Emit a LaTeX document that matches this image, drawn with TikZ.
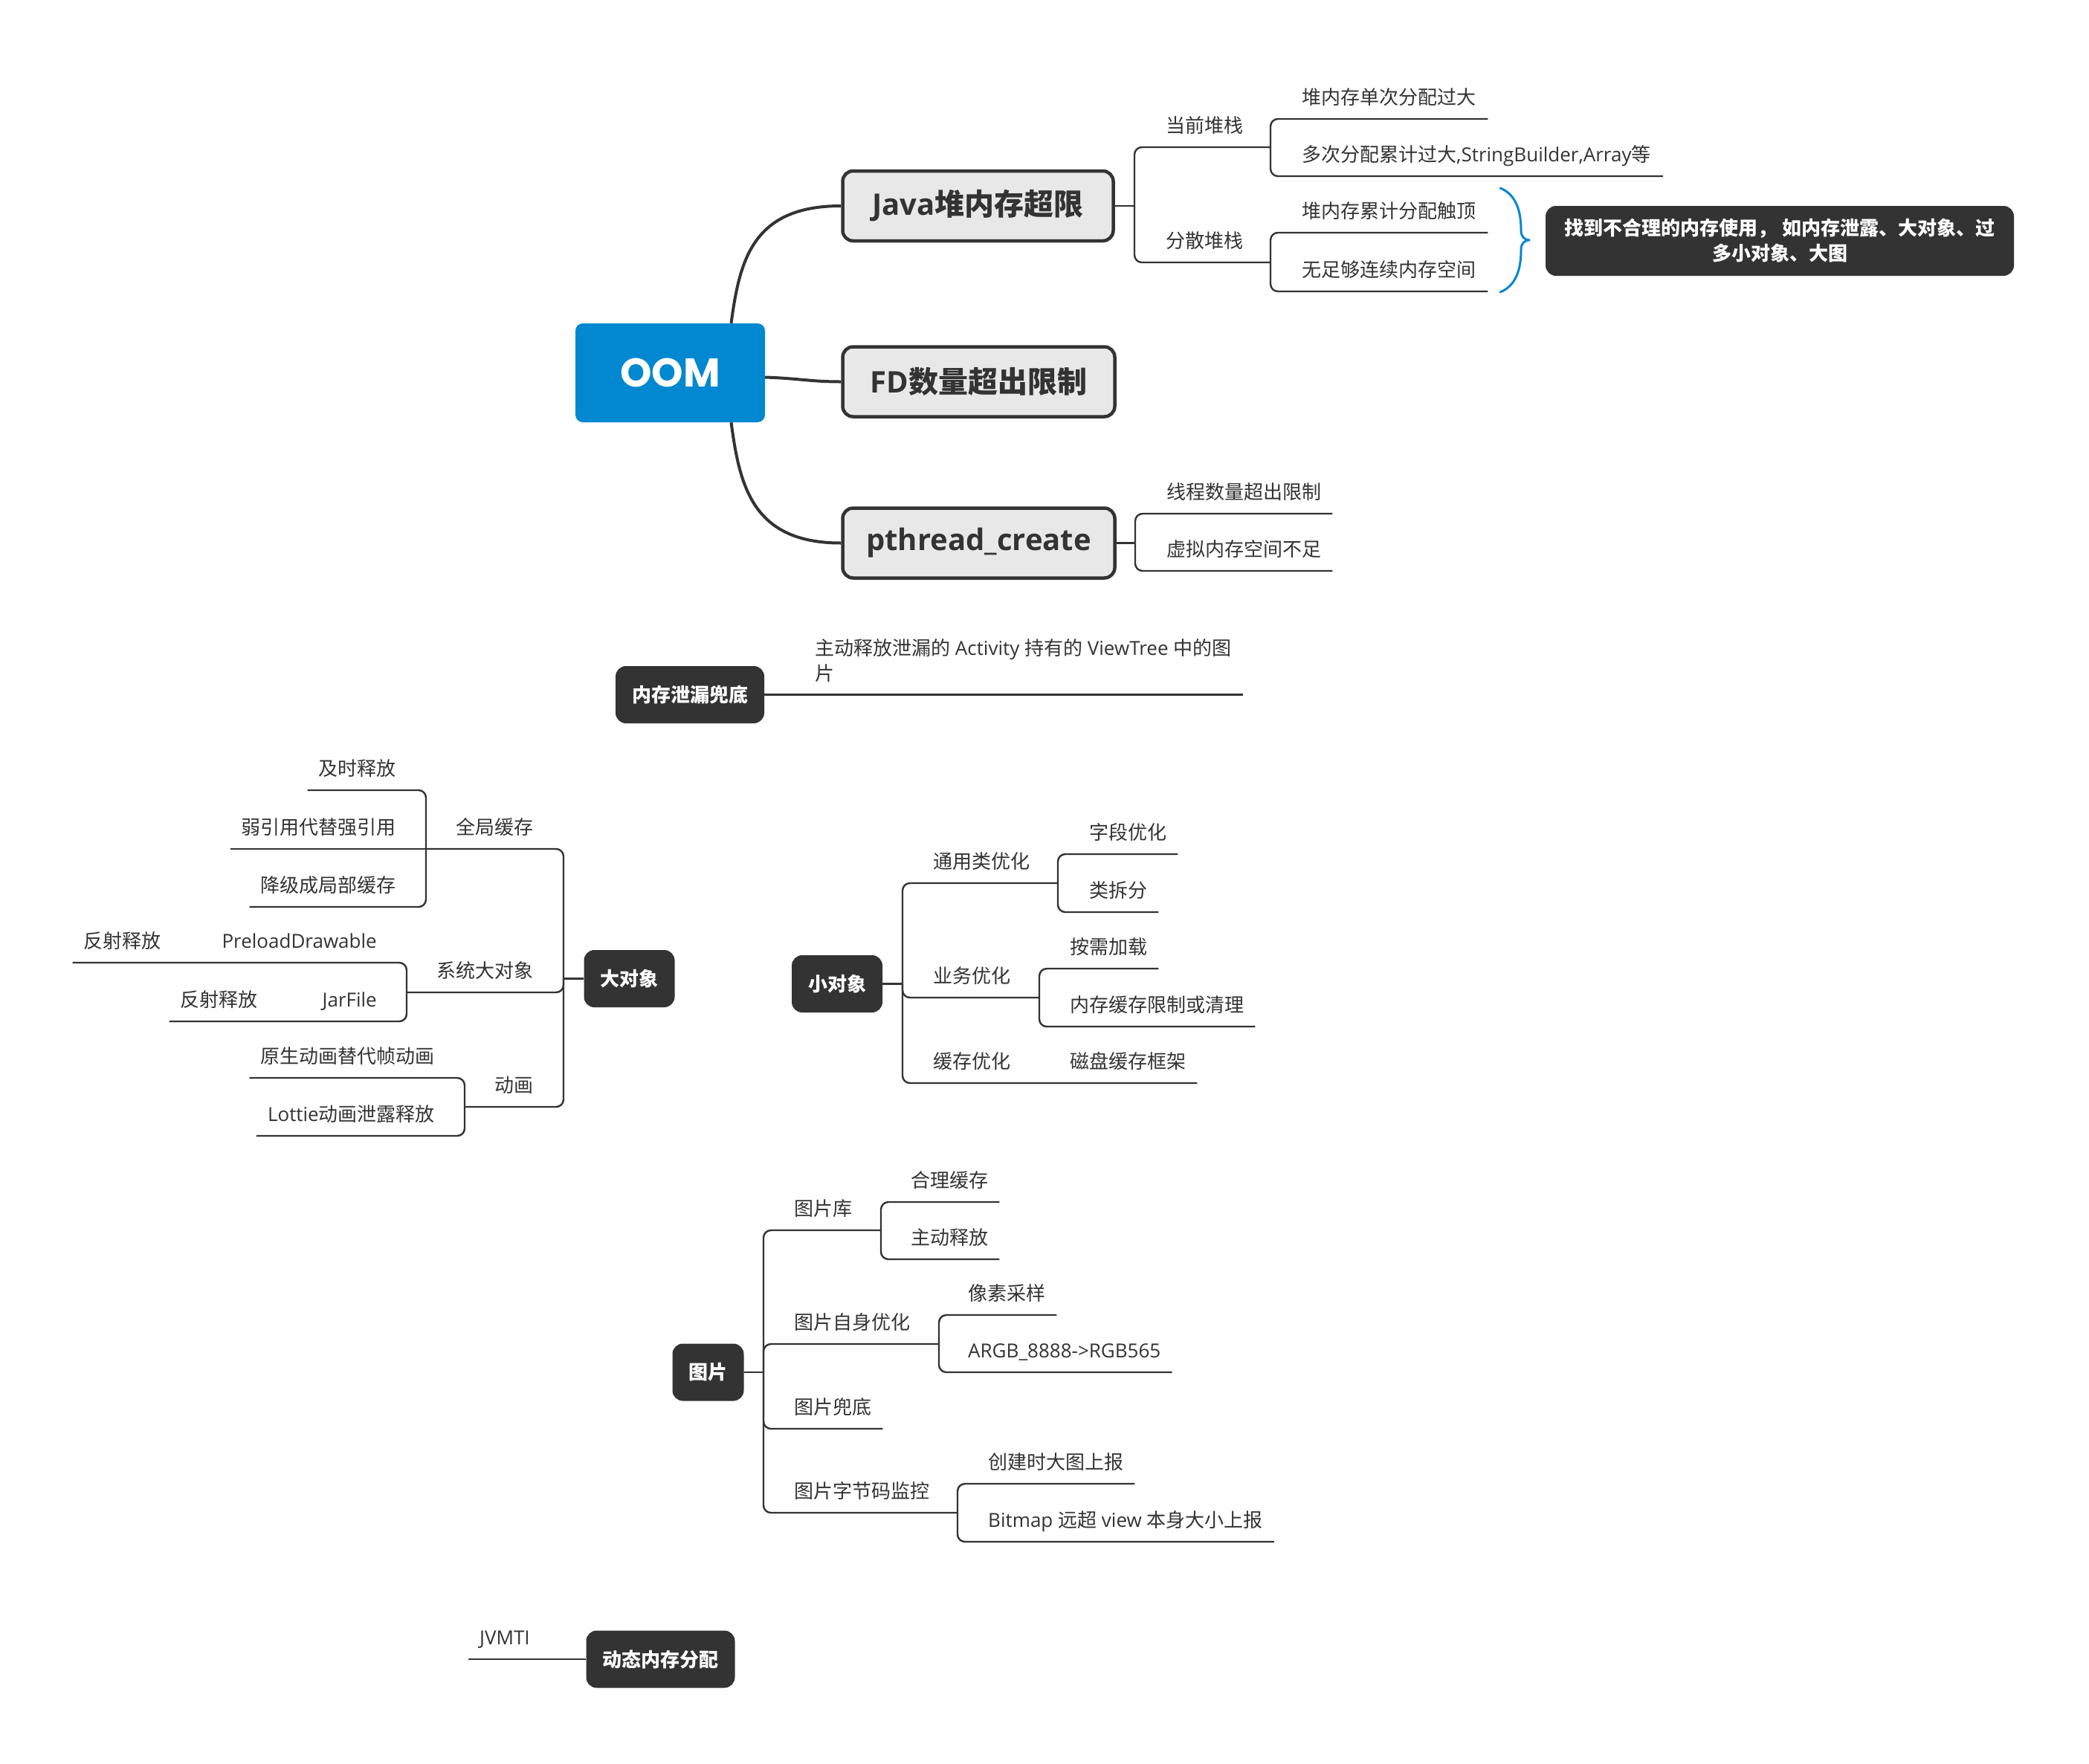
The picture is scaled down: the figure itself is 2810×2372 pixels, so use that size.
\documentclass[tikz,border=0pt]{standalone}
\usepackage{fontspec}
\usetikzlibrary{calc}
\setmainfont{Open Sans}
\newfontfamily\cjkfont{Noto Sans CJK SC}
\newfontfamily\oomfont{Poppins}
% automatic switch to the CJK font for CJK characters
\XeTeXinterchartokenstate=1
\newXeTeXintercharclass\cjkcls
\newcount\cjkc
\cjkc="3000 \loop \XeTeXcharclass\cjkc=\cjkcls \advance\cjkc by 1 \ifnum\cjkc<"3040 \repeat
\cjkc="4E00 \loop \XeTeXcharclass\cjkc=\cjkcls \advance\cjkc by 1 \ifnum\cjkc<"A000 \repeat
\cjkc="FF00 \loop \XeTeXcharclass\cjkc=\cjkcls \advance\cjkc by 1 \ifnum\cjkc<"FFF0 \repeat
\XeTeXinterchartoks 0 \cjkcls = {\begingroup\cjkfont}
\XeTeXinterchartoks 4095 \cjkcls = {\begingroup\cjkfont}
\XeTeXinterchartoks \cjkcls 0 = {\endgroup}
\XeTeXinterchartoks \cjkcls 4095 = {\endgroup}
\definecolor{ink}{HTML}{333333}
\definecolor{boxgray}{HTML}{E8E8E8}
\definecolor{oomblue}{HTML}{0288D1}
\begin{document}
\begin{tikzpicture}[x=1pt,y=-1pt,
  sub/.style={font=\fontsize{26}{34}\selectfont, text=ink, inner sep=0pt},
  rsub/.style={sub, anchor=base west},
  lsub/.style={sub, anchor=base east},
  br/.style={draw=ink, line width=2.4pt, rounded corners=10pt},
  trunkline/.style={draw=ink, line width=4pt},
  mainbox/.style={draw=ink, line width=4.5pt, fill=boxgray, rounded corners=14pt, text=ink,
    font=\bfseries\fontsize{40}{48}\selectfont, minimum width=366pt, minimum height=94pt, inner sep=0pt},
  darkbox/.style={fill=ink, rounded corners=14pt, text=white,
    font=\bfseries\fontsize{26}{34}\selectfont, inner xsep=22pt, inner ysep=0pt, minimum height=77pt},
]
\useasboundingbox (0,0) rectangle (2810,2372);
\fill[white] (0,0) rectangle (2810,2372);

% ---------- OOM and main branches ----------
\node[fill=oomblue, rounded corners=10pt, minimum width=255pt, minimum height=133pt, text=white,
  font=\oomfont\bfseries\fontsize{54}{60}\selectfont] (oom) at (901.5,501.5) {OOM};
\node[mainbox, minimum width=364pt] (java) at (1315.5,277) {Java堆内存超限};
\node[mainbox] (fd) at (1316.5,513.5) {FD数量超出限制};
\node[mainbox] (pth) at (1316.5,730.5) {pthread\_create};

\draw[trunkline] ([xshift=82pt]oom.north) .. controls (995,350) and (1012,277) .. (java.west);
\draw[trunkline] ([xshift=82pt]oom.south) .. controls (995,654) and (1012,730.5) .. (pth.west);
\draw[trunkline] ([yshift=-6pt]oom.east) .. controls (1075,509) and (1090,513.5) .. (fd.west);

% ---------- Java heap ----------
\coordinate (jT) at (1526,277);
\draw[br] (java.east) -- (jT);
\node[rsub] (cur) at (1568,178) {当前堆栈};
\node[rsub] (dis) at (1568,333) {分散堆栈};
\coordinate (curT) at (1709,198);
\coordinate (disT) at (1709,353);
\draw[br] (jT) |- (curT);
\draw[br] (jT) |- (disT);
\node[rsub] (c1) at (1751,140) {堆内存单次分配过大};
\node[rsub] (c2) at (1751,217) {多次分配累计过大,StringBuilder,Array等};
\draw[br] (curT) |- ([shift={(16pt,-20pt)}]c1.base east);
\draw[br] (curT) |- ([shift={(16pt,-20pt)}]c2.base east);
\node[rsub] (d1) at (1751,293) {堆内存累计分配触顶};
\node[rsub] (d2) at (1751,372) {无足够连续内存空间};
\draw[br] (disT) |- ([shift={(16pt,-20pt)}]d1.base east);
\draw[br] (disT) |- ([shift={(16pt,-20pt)}]d2.base east);

\draw[draw=oomblue, line width=3pt, line cap=round]
  (2018,253) .. controls (2040,262) and (2046,285) .. (2046,310)
  .. controls (2046,318) and (2050,323) .. (2058,323)
  .. controls (2050,323) and (2046,328) .. (2046,336)
  .. controls (2046,361) and (2040,384) .. (2018,393);
\node[fill=ink, rounded corners=14pt, text=white, font=\bfseries\fontsize{26}{34}\selectfont,
  minimum width=630pt, minimum height=94pt, align=center, inner sep=0pt] (note) at (2394,324)
  {找到不合理的内存使用， 如内存泄露、大对象、过\\多小对象、大图};

% ---------- pthread ----------
\coordinate (pT) at (1527,730.5);
\draw[br] (pth.east) -- (pT);
\node[rsub] (p1) at (1569,671) {线程数量超出限制};
\node[rsub] (p2) at (1569,748) {虚拟内存空间不足};
\draw[br] (pT) |- ([shift={(15pt,-20pt)}]p1.base east);
\draw[br] (pT) |- ([shift={(15pt,-20pt)}]p2.base east);

% ---------- leak ----------
\node[darkbox] (leak) at (928,934.5) {内存泄漏兜底};
\node[sub, anchor=north west, align=left] (leakc) at (1096,859)
  {主动释放泄漏的 Activity 持有的 ViewTree 中的图\\片};
\draw[br] (leak.east) -- ($(leakc.east |- leak.east)+(15pt,0)$);

% ---------- big objects ----------
\node[darkbox] (big) at (846.5,1316.5) {大对象};
\coordinate (bT) at (758,1316.5);
\draw[br] (big.west) -- (bT);
\node[lsub] (g) at (718,1122) {全局缓存};
\coordinate (gT) at (573,1142);
\draw[br] (bT) |- (gT);
\node[lsub] (g1) at (533,1043) {及时释放};
\node[lsub] (g2) at (533,1122) {弱引用代替强引用};
\node[lsub] (g3) at (533,1200) {降级成局部缓存};
\draw[br] (gT) |- ([shift={(-15pt,-20pt)}]g1.base west);
\draw[br] (gT) -- ([shift={(-15pt,-20pt)}]g2.base west);
\draw[br] (gT) |- ([shift={(-15pt,-20pt)}]g3.base west);

\node[lsub] (s) at (718,1315) {系统大对象};
\coordinate (sT) at (547,1335);
\draw[br] (bT) |- (sT);
\node[lsub] (s1) at (507,1275) {PreloadDrawable};
\coordinate (s1J) at (286,1295);
\node[lsub] (s1a) at (217,1275) {反射释放};
\draw[br] (sT) |- (s1J) -- ([shift={(-15pt,-20pt)}]s1a.base west);
\node[lsub] (s2) at (507,1354) {JarFile};
\coordinate (s2J) at (416,1374);
\node[lsub] (s2a) at (347,1354) {反射释放};
\draw[br] (sT) |- (s2J) -- ([shift={(-15pt,-20pt)}]s2a.base west);

\node[lsub] (an) at (718,1469) {动画};
\coordinate (aT) at (625,1489);
\draw[br] (bT) |- (aT);
\node[lsub] (a1) at (585,1430) {原生动画替代帧动画};
\node[lsub] (a2) at (585,1508) {Lottie动画泄露释放};
\draw[br] (aT) |- ([shift={(-15pt,-20pt)}]a1.base west);
\draw[br] (aT) |- ([shift={(-15pt,-20pt)}]a2.base west);

% ---------- small objects ----------
\node[darkbox] (small) at (1126,1323.5) {小对象};
\coordinate (smT) at (1214,1323.5);
\draw[br] (small.east) -- (smT);
\node[rsub] (u) at (1255,1168) {通用类优化};
\coordinate (uT) at (1423,1188);
\draw[br] (smT) |- (uT);
\node[rsub] (u1) at (1465,1129) {字段优化};
\node[rsub] (u2) at (1465,1207) {类拆分};
\draw[br] (uT) |- ([shift={(15pt,-20pt)}]u1.base east);
\draw[br] (uT) |- ([shift={(15pt,-20pt)}]u2.base east);
\node[rsub] (w) at (1255,1322) {业务优化};
\coordinate (wT) at (1398,1342);
\draw[br] (smT) |- (wT);
\node[rsub] (w1) at (1439,1283) {按需加载};
\node[rsub] (w2) at (1439,1361) {内存缓存限制或清理};
\draw[br] (wT) |- ([shift={(15pt,-20pt)}]w1.base east);
\draw[br] (wT) |- ([shift={(15pt,-20pt)}]w2.base east);
\node[rsub] (k) at (1255,1437) {缓存优化};
\coordinate (kT) at (1398,1457);
\node[rsub] (k1) at (1439,1437) {磁盘缓存框架};
\draw[br] (smT) |- (kT) -- ([shift={(15pt,-20pt)}]k1.base east);

% ---------- pictures ----------
\node[darkbox] (pic) at (952.5,1846) {图片};
\coordinate (picT) at (1027,1846);
\draw[br] (pic.east) -- (picT);
\node[rsub] (l) at (1068,1635) {图片库};
\coordinate (lT) at (1185,1655);
\draw[br] (picT) |- (lT);
\node[rsub] (l1) at (1225,1597) {合理缓存};
\node[rsub] (l2) at (1225,1674) {主动释放};
\draw[br] (lT) |- ([shift={(15pt,-20pt)}]l1.base east);
\draw[br] (lT) |- ([shift={(15pt,-20pt)}]l2.base east);
\node[rsub] (m) at (1068,1788) {图片自身优化};
\coordinate (mT) at (1263,1808);
\draw[br] (picT) |- (mT);
\node[rsub] (m1) at (1302,1749) {像素采样};
\node[rsub] (m2) at (1302,1826) {ARGB\_8888->RGB565};
\draw[br] (mT) |- ([shift={(15pt,-20pt)}]m1.base east);
\draw[br] (mT) |- ([shift={(15pt,-20pt)}]m2.base east);
\node[rsub] (n) at (1068,1902) {图片兜底};
\draw[br] (picT) |- ([shift={(15pt,-20pt)}]n.base east);
\node[rsub] (q) at (1068,2015) {图片字节码监控};
\coordinate (qT) at (1288,2035);
\draw[br] (picT) |- (qT);
\node[rsub] (q1) at (1329,1976) {创建时大图上报};
\node[rsub] (q2) at (1329,2054) {Bitmap 远超 view 本身大小上报};
\draw[br] (qT) |- ([shift={(15pt,-20pt)}]q1.base east);
\draw[br] (qT) |- ([shift={(15pt,-20pt)}]q2.base east);

% ---------- dynamic allocation ----------
\node[darkbox] (dyn) at (888.5,2232) {动态内存分配};
\node[sub, anchor=base west] (jv) at (645,2212) {JVMTI};
\draw[br] (dyn.west) -- ([shift={(-15pt,-20pt)}]jv.base west);
\end{tikzpicture}
\end{document}
